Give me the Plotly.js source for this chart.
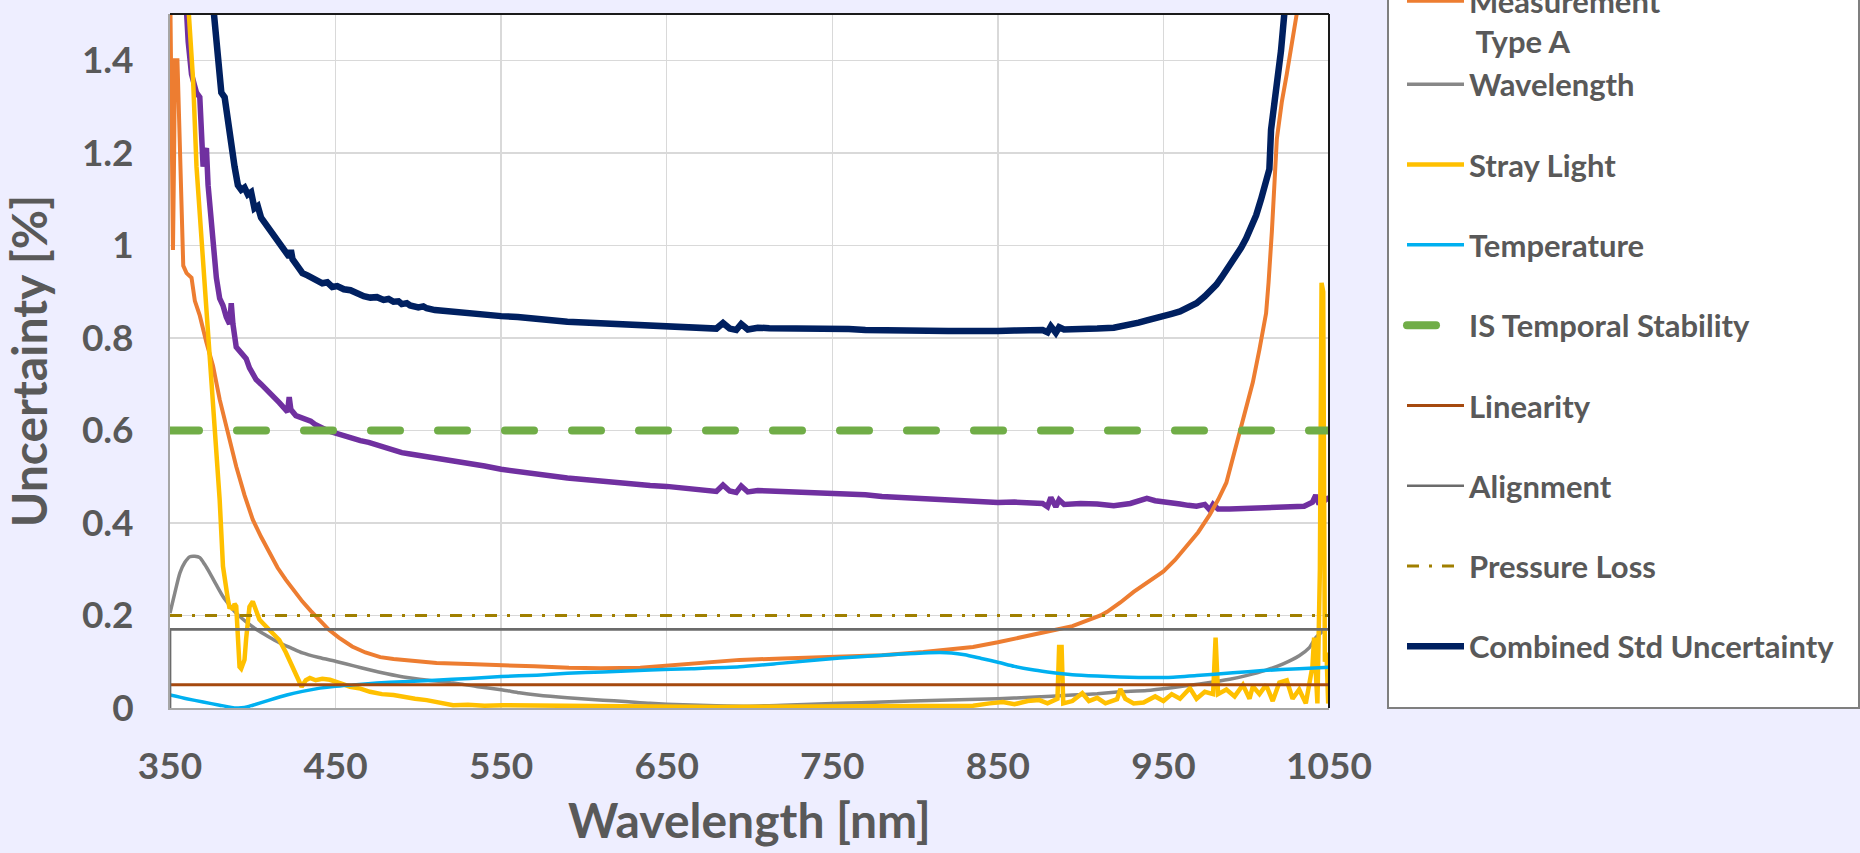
<!DOCTYPE html>
<html><head><meta charset="utf-8">
<script src="https://cdn.plot.ly/plotly-3.0.1.min.js"></script>
<style>
html,body{margin:0;padding:0;background:#EEEEFF;overflow:hidden;width:1860px;height:853px;}
#wrap{position:absolute;left:0;top:-100px;width:1860px;height:953px;}
</style></head><body><div id="wrap"></div>
<script>
// ---------- data (wavelength in nm, uncertainty in %) ----------
const wlTypeB = [357,361,363,366,368,369,370,371,372,373,374,375,376,377,378,380,382,384,386,387,388,390,392,394,396,398,400,402,405,408,410,413,416,419,421,422,423,426,429,432,435,438,441,445,449,453,457,461,465,470,475,480,485,490,495,500,505,510,515,520,525,530,540,550,560,570,580,590,600,610,620,630,640,650,660,670,676,680,684,688,692,695,699,705,712,720,730,740,750,760,770,780,790,800,810,820,830,840,850,860,870,877,880,882,885,887,890,900,910,920,930,935,940,945,950,955,960,965,970,975,978,980,983,990,1000,1010,1020,1030,1035,1040,1042,1044,1046,1048,1050];
const typeB = [1.7,1.44,1.37,1.33,1.32,1.25,1.17,1.2,1.21,1.13,1.09,1.05,1.03,0.96,0.93,0.885,0.87,0.845,0.83,0.875,0.83,0.78,0.77,0.76,0.755,0.735,0.72,0.71,0.7,0.69,0.682,0.672,0.66,0.648,0.64,0.672,0.645,0.632,0.628,0.626,0.62,0.612,0.606,0.6,0.595,0.59,0.585,0.582,0.578,0.574,0.568,0.563,0.558,0.552,0.549,0.546,0.543,0.542,0.538,0.535,0.533,0.531,0.523,0.516,0.511,0.506,0.502,0.497,0.494,0.49,0.487,0.484,0.481,0.479,0.476,0.473,0.471,0.468,0.482,0.469,0.466,0.48,0.467,0.47,0.469,0.468,0.467,0.467,0.466,0.464,0.461,0.457,0.455,0.453,0.451,0.45,0.448,0.446,0.444,0.445,0.443,0.442,0.435,0.455,0.435,0.45,0.44,0.442,0.441,0.437,0.442,0.448,0.453,0.448,0.446,0.445,0.441,0.438,0.436,0.44,0.428,0.44,0.43,0.43,0.431,0.432,0.432,0.433,0.436,0.445,0.46,0.44,0.455,0.45,0.455];

const wlTypeA = [350,351,351.8,352.5,353,354.5,356,357,358,360,363,365,368,372,376,380,385,390,395,400,405,410,415,420,425,430,435,440,446,452,460,468,477,485,491,500,511,530,551,570,591,610,634,660,694,720,754,780,805,820,835,850,862,875,885,895,905,912,916,924,932,940,945,950,957,964,971,978,983,988,992,996,1000,1004,1008,1012,1013.5,1015.5,1018.5,1021.5,1024.5,1030.5,1034];
const typeA = [1.6,1.2,0.99,1.2,1.4,1.4,1.2,1.05,0.956,0.94,0.93,0.88,0.848,0.79,0.739,0.667,0.59,0.522,0.46,0.407,0.37,0.335,0.303,0.277,0.252,0.23,0.21,0.19,0.169,0.152,0.133,0.12,0.11,0.106,0.104,0.1,0.0975,0.095,0.093,0.09,0.087,0.086,0.087,0.094,0.104,0.107,0.11,0.114,0.121,0.126,0.132,0.142,0.152,0.162,0.169,0.177,0.19,0.2,0.208,0.228,0.251,0.27,0.282,0.295,0.32,0.349,0.38,0.418,0.45,0.487,0.54,0.596,0.65,0.704,0.775,0.853,0.92,1.03,1.23,1.31,1.37,1.5,1.6];

const wlWavelength = [350,353,356,359,362,365,368,371,374,378,382,386,390,396,402.5,409,416,423,430,440,451,461,471,481,491,506,521,536,551,561,571.6,590,611.5,625,640,660,680,700,720,754.6,780,815,850,870,895,910,923.7,940,955,972,990,1000,1012,1022,1032,1038,1042,1046,1048];
const wavelengthU = [0.205,0.25,0.292,0.315,0.327,0.328,0.325,0.31,0.292,0.266,0.241,0.222,0.205,0.186,0.169,0.155,0.141,0.13,0.119,0.109,0.1,0.091,0.082,0.074,0.067,0.06,0.054,0.046,0.039,0.033,0.028,0.022,0.017,0.014,0.01,0.007,0.005,0.004,0.006,0.01,0.013,0.017,0.02,0.023,0.028,0.031,0.035,0.038,0.044,0.052,0.062,0.07,0.082,0.095,0.113,0.13,0.152,0.165,0.17];

const wlStray = [356,361,364,366,370,374,376,378,380,382,384,385,386,387,388,389,390,391,392,393,395,396,397,398,400,402,404,407,410,413,416,420,424,427,429.5,432,434.5,438,442,446.6,450,454,458.7,465,470.8,478,485,490.7,498,505,511,516,521,530,540,551,570,591.5,610,640,680,720,760,800,835,845,853,860,868,875,880,886,887,888.5,889.5,895,901,905,910,915,922,924,927,932,938,945,950,955,960,966,970,975,980,981.5,983,988,993,998,1002,1004,1008,1012,1016,1020,1024.5,1028,1032,1036,1040,1041,1043,1044.5,1045.5,1046.5,1047.5,1048.5,1049.5,1050];
const strayLight = [1.8,1.5,1.354,1.17,0.956,0.74,0.667,0.56,0.45,0.306,0.25,0.234,0.215,0.22,0.212,0.225,0.22,0.15,0.089,0.085,0.104,0.15,0.2,0.219,0.23,0.21,0.191,0.18,0.169,0.158,0.147,0.12,0.089,0.065,0.046,0.06,0.065,0.06,0.063,0.061,0.058,0.052,0.046,0.042,0.035,0.03,0.028,0.024,0.02,0.017,0.013,0.011,0.006,0.007,0.005,0.006,0.005,0.006,0.004,0.003,0.002,0.003,0.003,0.004,0.005,0.01,0.013,0.008,0.015,0.017,0.01,0.02,0.132,0.132,0.01,0.015,0.032,0.015,0.022,0.01,0.019,0.041,0.02,0.01,0.012,0.025,0.015,0.03,0.02,0.043,0.02,0.035,0.03,0.152,0.03,0.04,0.025,0.05,0.02,0.047,0.03,0.05,0.015,0.055,0.06,0.02,0.04,0.01,0.09,0.152,0.01,0.3,0.919,0.9,0.1,0.12,0.01,0.02];

const wlTemp = [350,360,370,380,390,395,400,410,420.5,430,440.6,450,460.6,475,490.7,510,531,550,571.6,590,611.5,640,665,694,720,754.6,780,795,805,815,822,830,840,850,860,870,880,895,910,923.7,935,952,970,992,1010,1032,1050];
const temperature = [0.028,0.02,0.013,0.006,0.0,0.001,0.006,0.017,0.028,0.036,0.043,0.047,0.05,0.054,0.057,0.06,0.064,0.068,0.071,0.075,0.078,0.082,0.085,0.089,0.097,0.108,0.114,0.117,0.119,0.12,0.119,0.115,0.107,0.099,0.09,0.083,0.078,0.072,0.069,0.067,0.066,0.066,0.07,0.076,0.081,0.085,0.088];

const wlIS = [350,1050];
const isStability = [0.6,0.6];
const wlLinearity = [350,1050];
const linearity = [0.05,0.05];
const wlAlignment = [350,350,1050];
const alignment = [0,0.17,0.17];
const wlPressure = [350,1050];
const pressureLoss = [0.2,0.2];

const wlCombined = [370,377,379,381,383,385,387,389,391,393,395,397,399,401,403,405,408,411,414,417,420,422,423,424,427,430,433,436,439,442,445,448,451,455,459,463,467,471,475,479,482,485,488,490,493,495,500,503,505,510,515,520,525,530,535,540,550,560,570,580,590,600,610,620,630,640,650,660,670,676,680,684,688,692,695,699,705,712,720,730,740,750,760,770,780,790,800,810,820,830,840,850,860,870,877,880,882,885,887,890,895,900,910,920,930,935,940,945,950,955,960,965,970,975,980,982,985,988,991,994,997,1000,1003,1006,1009,1012,1014,1015,1017,1019,1021,1023,1026];
const combined = [1.75,1.5,1.42,1.33,1.32,1.26,1.22,1.17,1.13,1.12,1.125,1.11,1.115,1.08,1.085,1.06,1.045,1.025,1.01,0.995,0.985,0.975,0.99,0.97,0.955,0.94,0.935,0.93,0.925,0.918,0.92,0.91,0.912,0.905,0.903,0.895,0.89,0.887,0.888,0.882,0.884,0.878,0.879,0.873,0.875,0.87,0.866,0.868,0.864,0.86,0.858,0.856,0.857,0.852,0.853,0.85,0.847,0.845,0.841,0.838,0.835,0.833,0.831,0.829,0.828,0.826,0.825,0.823,0.822,0.821,0.82,0.832,0.82,0.817,0.83,0.818,0.822,0.821,0.821,0.82,0.821,0.82,0.819,0.817,0.816,0.816,0.815,0.815,0.815,0.815,0.814,0.815,0.816,0.815,0.817,0.812,0.825,0.811,0.823,0.818,0.818,0.819,0.82,0.822,0.828,0.833,0.838,0.842,0.845,0.852,0.857,0.865,0.875,0.89,0.905,0.915,0.93,0.945,0.96,0.975,0.995,1.015,1.04,1.065,1.1,1.135,1.165,1.25,1.3,1.35,1.42,1.5,1.7];

const xTicks = [350,450,550,650,750,850,950,1050];

// ---------- figure geometry ----------
const OFF = 100;                 // hidden strip above the viewport
const FIG_W = 1860, FIG_H = 853 + OFF;
const M = {l:170, r:1860-1329, t:14+OFF, b:853-708};
const PW = FIG_W - M.l - M.r, PH = FIG_H - M.t - M.b;
const px2x = p => (p - M.l) / PW;
const py2y = p => 1 - (p + OFF - M.t) / PH;   // p = viewport y

const TXT = '#595959';
const FONT = 'Lato, "Open Sans", sans-serif';

function ln(name, x, y, color, width, group, extra) {
  return Object.assign({type:'scatter', mode:'lines', name:name, x:x, y:y,
    line:{color:color, width:width}, legendgroup:group, hoverinfo:'x+y+name'}, extra || {});
}

const traces = [
  ln('Measurement Type B', wlTypeB, typeB, '#7030A0', 5.5, 'g0', {showlegend:false}),
  ln('Measurement<br>\u00A0Type A', wlTypeA, typeA, '#ED7D31', 4, 'g1'),
  ln('Wavelength', wlWavelength, wavelengthU, '#878787', 3.5, 'g1'),
  ln('Stray Light', wlStray, strayLight, '#FFC000', 4.5, 'g2'),
  ln('Temperature', wlTemp, temperature, '#00B0F0', 3.5, 'g3'),
  ln('IS Temporal Stability', wlIS, isStability, '#70AD47', 8, 'g4'),
  ln('Linearity', wlLinearity, linearity, '#A5490F', 3, 'g5'),
  ln('Alignment', wlAlignment, alignment, '#6B6B6B', 2.7, 'g6'),
  ln('Pressure Loss', wlPressure, pressureLoss, '#A07F00', 3, 'g7'),
  ln('Combined Std Uncertainty', wlCombined, combined, '#002060', 6.5, 'g8')
];
traces[2].line.shape = 'spline'; traces[2].line.smoothing = 0.6;
traces[4].line.shape = 'spline'; traces[4].line.smoothing = 0.6;
traces[5].line.dash = '29px,38px';
traces[8].line.dash = '12px,10px,3px,10px';

const layout = {
  width: FIG_W, height: FIG_H,
  paper_bgcolor:'#EEEEFF', plot_bgcolor:'#FFFFFF',
  margin:{l:M.l, r:M.r, t:M.t, b:M.b, pad:0, autoexpand:false},
  font:{family:FONT, color:TXT},
  xaxis:{range:[350,1050], tickvals:xTicks, ticktext:xTicks.map(String),
    showgrid:true, gridcolor:'#D9D9D9', gridwidth:1.5, zeroline:false,
    showline:true, linecolor:'#A6A6A6', linewidth:2, ticks:'',
    tickfont:{family:FONT, size:37, color:TXT, weight:700}, ticklabelstandoff:25,
    title:{text:'Wavelength [nm]', font:{family:FONT, size:48, color:TXT, weight:700}, standoff:18}},
  yaxis:{range:[0,1.5], tick0:0, dtick:0.2,
    showgrid:true, gridcolor:'#D9D9D9', gridwidth:1.5, zeroline:false,
    showline:true, linecolor:'#A6A6A6', linewidth:2, ticks:'',
    tickfont:{family:FONT, size:37, color:TXT, weight:700}, ticklabelstandoff:27,
    title:{text:'Uncertainty [%]', font:{family:FONT, size:48, color:TXT, weight:700}, standoff:22}},
  showlegend:true,
  legend:{x:px2x(1402), xanchor:'left', y:py2y(-26), yanchor:'top',
    bgcolor:'rgba(0,0,0,0)', borderwidth:0, maxheight:1,
    font:{family:FONT, size:31, color:TXT, weight:700},
    traceorder:'grouped', tracegroupgap:37, itemwidth:57, valign:'top'},
  shapes:[
    {type:'rect', xref:'paper', yref:'paper', x0:px2x(1388), x1:px2x(1859), y0:0, y1:1.4,
      fillcolor:'#FFFFFF', line:{color:'#7F7F7F', width:2}, layer:'below'},
    {type:'line', xref:'paper', yref:'paper', x0:0, x1:1, y0:1, y1:1, line:{color:'#1a1a1a', width:2}, layer:'above'},
    {type:'line', xref:'paper', yref:'paper', x0:1, x1:1, y0:0, y1:1, line:{color:'#1a1a1a', width:2}, layer:'above'}
  ]
};

Plotly.newPlot('wrap', traces, layout, {displayModeBar:false, staticPlot:true}).then(function(gd){
  // rounded dash ends for the IS Temporal Stability line (plot and legend)
  const tr = gd.querySelectorAll('.scatterlayer .trace');
  if (tr[5]) tr[5].querySelectorAll('path.js-line').forEach(p => p.style.strokeLinecap = 'round');
  gd.querySelectorAll('.legend .traces').forEach(function(t){
    if (t.textContent.indexOf('IS Temporal') >= 0)
      t.querySelectorAll('path').forEach(p => p.style.strokeLinecap = 'round');
  });
});
</script>
</body></html>
